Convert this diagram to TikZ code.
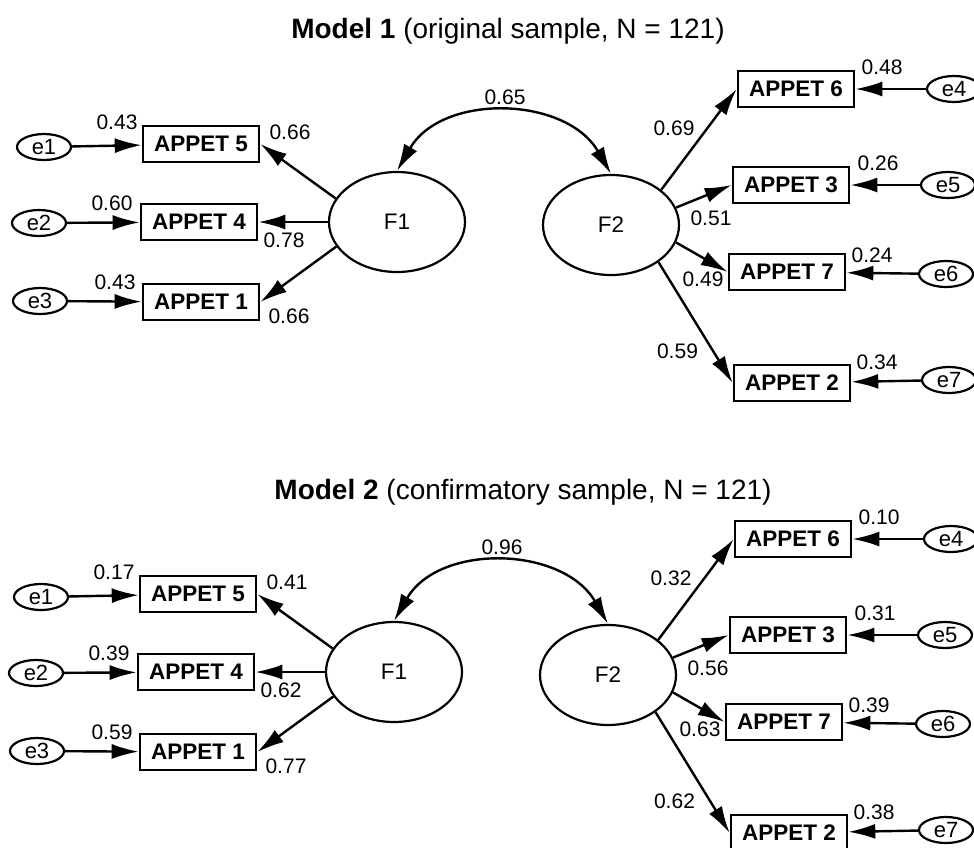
\documentclass[tikz,border=0pt]{standalone}
\usepackage{fontspec}
\setmainfont{Liberation Sans}
\usetikzlibrary{arrows.meta,shapes.geometric}

\tikzset{
  indicator/.style={draw, line width=2.6pt, minimum width=116pt, minimum height=36pt,
    inner sep=0pt, font=\fontsize{22.5}{22.5}\selectfont\bfseries},
  latent/.style={draw, ellipse, line width=2.2pt, minimum width=136pt, minimum height=100pt,
    inner sep=0pt, font=\fontsize{22.5}{22.5}\selectfont},
  errterm/.style={draw, ellipse, line width=2.2pt, minimum width=54pt, minimum height=26pt,
    inner sep=0pt, font=\fontsize{22}{22}\selectfont},
  coef/.style={font=\fontsize{21}{21}\selectfont, inner sep=0pt},
  heading/.style={font=\fontsize{28}{28}\selectfont, inner sep=0pt, anchor=base},
  effect/.style={line width=2.4pt, -{Latex[length=27pt,width=15pt]}},
  covar/.style={line width=2.4pt, {Latex[length=27pt,width=15pt]}-{Latex[length=27pt,width=15pt]}},
}

% One two-factor measurement model; the estimates come from \vErr*, \vLd* and \vCov
\newcommand\drawsem{%
  \node[latent] (F1) at (397,222) {F1};
  \node[latent] (F2) at (611,225) {F2};
  \node[indicator] (a5) at (201,144) {APPET 5};
  \node[indicator] (a4) at (199,222) {APPET 4};
  \node[indicator] (a1) at (201,302) {APPET 1};
  \node[indicator] (a6) at (796,89) {APPET 6};
  \node[indicator] (a3) at (791,185) {APPET 3};
  \node[indicator] (a7) at (787,272) {APPET 7};
  \node[indicator] (a2) at (792,383) {APPET 2};
  \node[errterm] (e1) at (44,147) {e1};
  \node[errterm] (e2) at (39,223) {e2};
  \node[errterm] (e3) at (40,301) {e3};
  \node[errterm] (e4) at (954,89) {e4};
  \node[errterm] (e5) at (948,185) {e5};
  \node[errterm] (e6) at (946,274) {e6};
  \node[errterm] (e7) at (949,380) {e7};
  % error terms
  \draw[effect] (e1) -- (a5);
  \draw[effect] (e2) -- (a4);
  \draw[effect] (e3) -- (a1);
  \draw[effect] (e4) -- (a6);
  \draw[effect] (e5) -- (a3);
  \draw[effect] (e6) -- (a7);
  \draw[effect] (e7) -- (a2);
  % factor loadings
  \draw[effect] (F1.159) -- (a5.east);
  \draw[effect] (F1.180) -- (a4.east);
  \draw[effect] (F1.202) -- (a1.east);
  \draw[effect] (F2.35) -- (a6.west);
  \draw[effect] (F2.15) -- (a3.west);
  \draw[effect] (F2.-15) -- (a7.west);
  \draw[effect] (F2.-38) -- (a2.west);
  % factor covariance
  \draw[covar] (F1.north) .. controls +(45,-78) and +(-45,-78) .. (F2.north);
  % estimates
  \node[coef] (rA) at (117,122) {\vErrA};
  \node[coef] (rB) at (112,203) {\vErrB};
  \node[coef] (rC) at (115,282) {\vErrC};
  \node[coef] (rD) at (882,67) {\vErrD};
  \node[coef] (rE) at (878,163) {\vErrE};
  \node[coef] (rF) at (872,255) {\vErrF};
  \node[coef] (rG) at (877,362) {\vErrG};
  \node[coef] (lA) at (290,132) {\vLdA};
  \node[coef] (lB) at (284,240) {\vLdB};
  \node[coef] (lC) at (289,316) {\vLdC};
  \node[coef] (lD) at (674,128) {\vLdD};
  \node[coef] (lE) at (711,218) {\vLdE};
  \node[coef] (lF) at (703,279.5) {\vLdF};
  \node[coef] (lG) at (677.5,351) {\vLdG};
  \node[coef] (cv) at (505,97) {\vCov};
}

\begin{document}
\begin{tikzpicture}[x=1pt,y=-1pt]
\useasboundingbox (0,0) rectangle (974,847);
\fill[white] (0,0) rectangle (974,847);

\node[heading] (t1) at (508,38) {\textbf{Model 1} (original sample, N = 121)};
\begin{scope}[name prefix=m1-]
  \def\vErrA{0.43}\def\vErrB{0.60}\def\vErrC{0.43}\def\vErrD{0.48}
  \def\vErrE{0.26}\def\vErrF{0.24}\def\vErrG{0.34}
  \def\vLdA{0.66}\def\vLdB{0.78}\def\vLdC{0.66}\def\vLdD{0.69}
  \def\vLdE{0.51}\def\vLdF{0.49}\def\vLdG{0.59}\def\vCov{0.65}
  \drawsem
\end{scope}

\node[heading] (t2) at (523,499) {\textbf{Model 2} (confirmatory sample, N = 121)};
\begin{scope}[name prefix=m2-, shift={(-3,450)}]
  \def\vErrA{0.17}\def\vErrB{0.39}\def\vErrC{0.59}\def\vErrD{0.10}
  \def\vErrE{0.31}\def\vErrF{0.39}\def\vErrG{0.38}
  \def\vLdA{0.41}\def\vLdB{0.62}\def\vLdC{0.77}\def\vLdD{0.32}
  \def\vLdE{0.56}\def\vLdF{0.63}\def\vLdG{0.62}\def\vCov{0.96}
  \drawsem
\end{scope}
\end{tikzpicture}
\end{document}
